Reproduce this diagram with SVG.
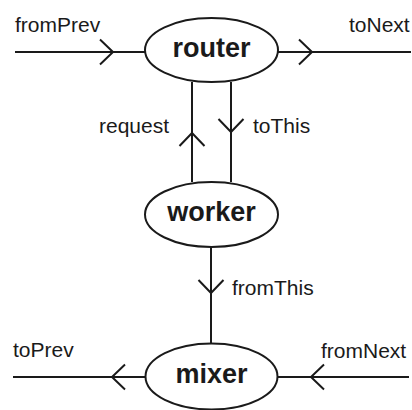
<svg xmlns="http://www.w3.org/2000/svg" width="412" height="410" viewBox="0 0 412 410">
<defs>
<marker id="chev" markerUnits="userSpaceOnUse" markerWidth="30" markerHeight="30" viewBox="-15 -15 30 30" refX="0" refY="0" orient="auto" overflow="visible">
<path d="M-13,-12.5 L0,0 L-13,12.5" fill="none" stroke="#1a1a1a" stroke-width="2"/>
</marker>
</defs>
<style>
.edge{fill:none;stroke:#1a1a1a;stroke-width:2;marker-mid:url(#chev)}
.node ellipse{fill:#fff;stroke:#1a1a1a;stroke-width:2}
.node text{font-family:"Liberation Sans",Arial,sans-serif;font-weight:bold;font-size:27px;fill:#1a1a1a;text-anchor:middle}
.lbl{font-family:"Liberation Sans",Arial,sans-serif;font-size:21px;fill:#1a1a1a}
</style>
<rect width="412" height="410" fill="#fff"/>
<g id="connectors">
<path class="edge" d="M15,52 L113,52 L145,52"/>
<path class="edge" d="M278,52 L312,52 L411,52"/>
<path class="edge" d="M192,182 L192,133 L192,82"/>
<path class="edge" d="M231,82 L231,132 L231,182"/>
<path class="edge" d="M211,247 L211,293 L211,343"/>
<path class="edge" d="M145,377 L112,377 L13,377"/>
<path class="edge" d="M409,377 L311,377 L278,377"/>
<text class="lbl" x="15" y="32">fromPrev</text>
<text class="lbl" x="349" y="32">toNext</text>
<text class="lbl" x="99" y="133">request</text>
<text class="lbl" x="253" y="133">toThis</text>
<text class="lbl" x="232" y="295">fromThis</text>
<text class="lbl" x="13" y="357">toPrev</text>
<text class="lbl" x="321" y="358">fromNext</text>
</g>
<g id="router" class="node">
<ellipse cx="211.5" cy="50" rx="66.5" ry="32"/>
<text x="211.5" y="57">router</text>
</g>
<g id="worker" class="node">
<ellipse cx="211.5" cy="214.5" rx="66.5" ry="32.5"/>
<text x="211.5" y="221">worker</text>
</g>
<g id="mixer" class="node">
<ellipse cx="211.5" cy="376.5" rx="66" ry="33"/>
<text x="211.5" y="383">mixer</text>
</g>
</svg>
